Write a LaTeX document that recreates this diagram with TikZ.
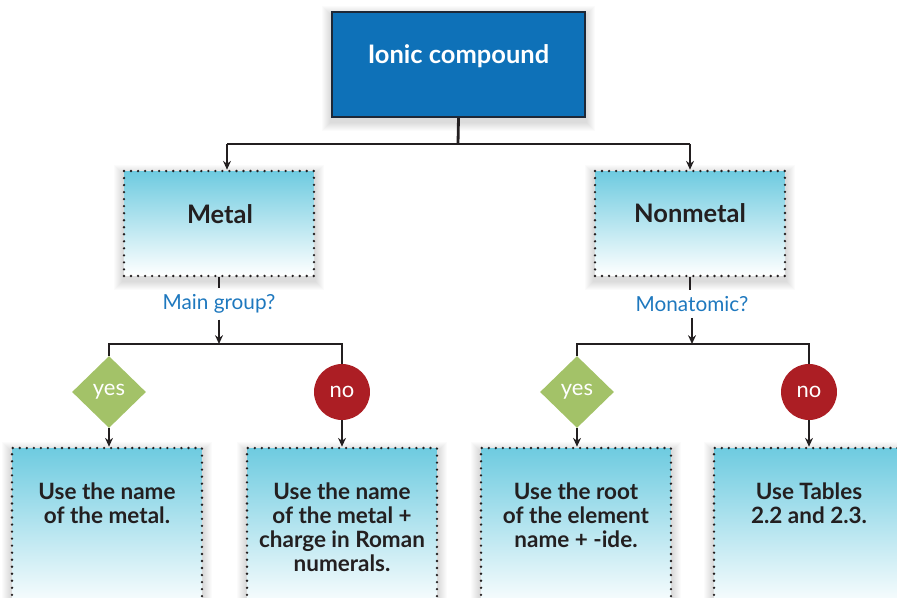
\documentclass[tikz,border=0pt]{standalone}
\usepackage{fontspec}
\setmainfont{Lato}
\usetikzlibrary{arrows.meta, positioning, shapes.geometric, calc, backgrounds}
\definecolor{topblue}{RGB}{14, 113, 184}
\definecolor{topedge}{RGB}{30, 40, 55}
\definecolor{cyanbox}{RGB}{110, 203, 224}
\definecolor{yesgreen}{RGB}{163, 194, 104}
\definecolor{nored}{RGB}{172, 30, 36}
\definecolor{qblue}{RGB}{30, 120, 190}
\definecolor{lineclr}{RGB}{35, 31, 32}
\tikzset{
  % Boxes
  topbox/.style   = {draw=topedge, fill=topblue, line width=1.1pt,
                     minimum width=5.06cm, minimum height=2.1cm},
  stepbox/.style  = {draw=lineclr, line width=1.5pt, line cap=round,
                     dash pattern=on 0pt off 4pt,
                     top color=cyanbox, bottom color=white,
                     minimum width=3.8cm, minimum height=2.1cm},
  usebox/.style   = {stepbox, minimum height=3.24cm},
  % Decisions
  yesmark/.style  = {diamond, fill=yesgreen, inner sep=0pt,
                     minimum width=1.48cm, minimum height=1.44cm,
                     text=white, font=\fontsize{12.5}{14}\selectfont},
  nomark/.style   = {circle, fill=nored, inner sep=0pt, minimum size=1.12cm,
                     text=white, font=\fontsize{12.5}{14}\selectfont},
  % Texts
  toptext/.style  = {text=white, font=\bfseries\fontsize{14.5}{17}\selectfont},
  boxtext/.style  = {text=lineclr, font=\bfseries\fontsize{14.5}{17}\selectfont},
  usetext/.style  = {text=lineclr, align=center, anchor=north,
                     font=\bfseries\fontsize{12.8}{13.6}\selectfont},
  question/.style = {text=qblue, font=\fontsize{11.8}{14}\selectfont},
  % Connectors
  trunk/.style    = {draw=lineclr, line width=1.6pt},
  conn/.style     = {draw=lineclr, line width=0.85pt},
  arrowline/.style= {conn, -{Stealth[length=5pt, width=4.5pt]}},
}
% soft halo behind a box
\newcommand{\softshadow}[1]{%
  \foreach \s in {1,...,9}{%
    \fill[black, opacity=0.016]
      ($(#1.north west)+(-\s,-\s+4)$) rectangle ($(#1.south east)+(\s,\s+4)$);
  }}
\begin{document}
\begin{tikzpicture}[x=0.02cm, y=-0.02cm]
  \clip (0,0) rectangle (897,598);
  % Top box
  \node[topbox] (ionic) at (458.5,64.5) {};
  \node[toptext] (ionictxt) at (458.5,56) {Ionic compound};
  % Metal / Nonmetal
  \node[stepbox] (metal) at (219,223.5) {};
  \node[boxtext] (metaltxt) at (220,214) {Metal};
  \node[stepbox] (nonmetal) at (690,223.5) {};
  \node[boxtext] (nonmetaltxt) at (690,213) {Nonmetal};
  % Split from the top box
  \coordinate (split) at (458,144);
  \coordinate (splitL) at (227,144);
  \coordinate (splitR) at (690,144);
  \draw[trunk] (ionic.south) -- (split);
  \draw[trunk] (splitL) -- (splitR);
  \draw[arrowline] (splitL) -- (splitL |- metal.north);
  \draw[arrowline] (splitR) -- (splitR |- nonmetal.north);
  % Questions
  \node[question] (mainq) at (219,304) {Main group?};
  \node[question] (monoq) at (692,304) {Monatomic?};
  \coordinate (mainsplit) at (219,344);
  \coordinate (monosplit) at (692,344);
  \draw[conn] (metal.south) -- (mainq.north);
  \draw[conn] (nonmetal.south) -- (nonmetal.south |- monoq.north);
  \draw[arrowline] (mainq.south) -- (mainsplit);
  \draw[arrowline] (monoq.south) -- (monosplit);
  % yes / no marks
  \node[yesmark] (yesA) at (109,392) {yes};
  \node[nomark]  (noA)  at (342,392) {no};
  \node[yesmark] (yesB) at (577,392) {yes};
  \node[nomark]  (noB)  at (809,392) {no};
  \draw[conn] (yesA.north) -- (yesA.north |- mainsplit) -- (noA.north |- mainsplit) -- (noA.north);
  \draw[conn] (yesB.north) -- (yesB.north |- monosplit) -- (noB.north |- monosplit) -- (noB.north);
  % Answer boxes
  \node[usebox] (useA) at (107,529) {};
  \node[usebox] (useB) at (342,529) {};
  \node[usebox] (useC) at (576,529) {};
  \node[usebox] (useD) at (809,529) {};
  \draw[arrowline] (yesA.south) -- (yesA.south |- useA.north);
  \draw[arrowline] (noA.south) -- (noA.south |- useB.north);
  \draw[arrowline] (yesB.south) -- (yesB.south |- useC.north);
  \draw[arrowline] (noB.south) -- (noB.south |- useD.north);
  \node[usetext, below=0.6cm of useA.north] (useAtxt) {Use the name\\of the metal.};
  \node[usetext, below=0.6cm of useB.north] (useBtxt) {Use the name\\of the metal +\\charge in Roman\\numerals.};
  \node[usetext, below=0.6cm of useC.north] (useCtxt) {Use the root\\of the element\\name + -ide.};
  \node[usetext, below=0.6cm of useD.north] (useDtxt) {Use Tables\\2.2 and 2.3.};
  % Shadows
  \begin{scope}[on background layer]
    \foreach \b in {ionic, metal, nonmetal, useA, useB, useC, useD}{\softshadow{\b}}
  \end{scope}
\end{tikzpicture}
\end{document}
